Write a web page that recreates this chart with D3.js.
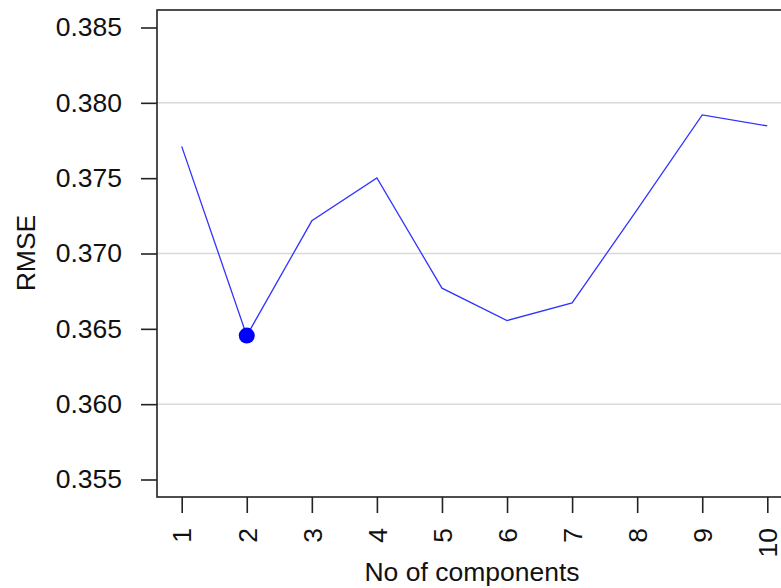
<!DOCTYPE html>
<html>
<head>
<meta charset="utf-8">
<script src="https://cdn.jsdelivr.net/npm/d3@7"></script>
<style>
  html, body { margin: 0; padding: 0; background: #fff; }
  svg { display: block; }
  text { font-family: "Liberation Sans", Arial, sans-serif; fill: #111; }
</style>
</head>
<body>
<svg id="chart" width="781" height="588"></svg>
<script>
const components = [1, 2, 3, 4, 5, 6, 7, 8, 9, 10];
const rmse = [0.37711, 0.36455, 0.37217, 0.37501, 0.36770, 0.36555, 0.36672, 0.37291, 0.37920, 0.37847];
const yTicks = [0.355, 0.360, 0.365, 0.370, 0.375, 0.380, 0.385];
const gridValues = [0.360, 0.370, 0.380];
const bestIndex = 1;

const svg = d3.select("#chart");
const frame = { left: 157, right: 792, top: 10, bottom: 497 };
const fontSize = 26.5;

const x = d3.scaleLinear().domain([1, 10]).range([181.7, 767.3]);
const y = d3.scaleLinear().domain([0.355, 0.385]).range([479.5, 27.5]);

// grid lines
svg.append("g").selectAll("line").data(gridValues).join("line")
  .attr("x1", frame.left).attr("x2", frame.right)
  .attr("y1", d => y(d)).attr("y2", d => y(d))
  .attr("stroke", "#d9d9d9").attr("stroke-width", 1.5);

// line
svg.append("path")
  .datum(components.map((c, i) => [c, rmse[i]]))
  .attr("fill", "none")
  .attr("stroke", "#3333ff")
  .attr("stroke-width", 1.3)
  .attr("d", d3.line().x(d => x(d[0])).y(d => y(d[1])));

// best point
svg.append("circle")
  .attr("cx", x(components[bestIndex]))
  .attr("cy", y(rmse[bestIndex]))
  .attr("r", 8)
  .attr("fill", "#0000ff");

// frame
svg.append("rect")
  .attr("x", frame.left).attr("y", frame.top)
  .attr("width", frame.right - frame.left).attr("height", frame.bottom - frame.top)
  .attr("fill", "none").attr("stroke", "#222").attr("stroke-width", 1.6);

// y axis
const yAxis = svg.append("g").attr("transform", `translate(${frame.left},0)`)
  .call(d3.axisLeft(y).tickValues(yTicks).tickSize(16).tickPadding(19).tickFormat(d3.format(".3f")));
yAxis.select(".domain").remove();
yAxis.selectAll(".tick line").attr("stroke", "#222").attr("stroke-width", 1.6);
yAxis.selectAll(".tick text").attr("font-size", fontSize)
  .attr("font-family", "Liberation Sans, Arial, sans-serif").attr("fill", "#111");

// x axis
const xAxis = svg.append("g").attr("transform", `translate(0,${frame.bottom})`)
  .call(d3.axisBottom(x).tickValues(components).tickSize(16).tickFormat(d3.format("d")));
xAxis.select(".domain").remove();
xAxis.selectAll(".tick line").attr("stroke", "#222").attr("stroke-width", 1.6);
xAxis.selectAll(".tick text")
  .attr("font-size", fontSize)
  .attr("font-family", "Liberation Sans, Arial, sans-serif").attr("fill", "#111")
  .attr("text-anchor", "end")
  .attr("transform", "rotate(-90)")
  .attr("x", -31).attr("y", 0).attr("dy", "0.35em");

// axis titles
svg.append("text")
  .attr("x", 472).attr("y", 581)
  .attr("text-anchor", "middle")
  .attr("font-size", fontSize)
  .text("No of components");

svg.append("text")
  .attr("transform", "translate(35,253) rotate(-90)")
  .attr("text-anchor", "middle")
  .attr("font-size", fontSize)
  .text("RMSE");
</script>
</body>
</html>
